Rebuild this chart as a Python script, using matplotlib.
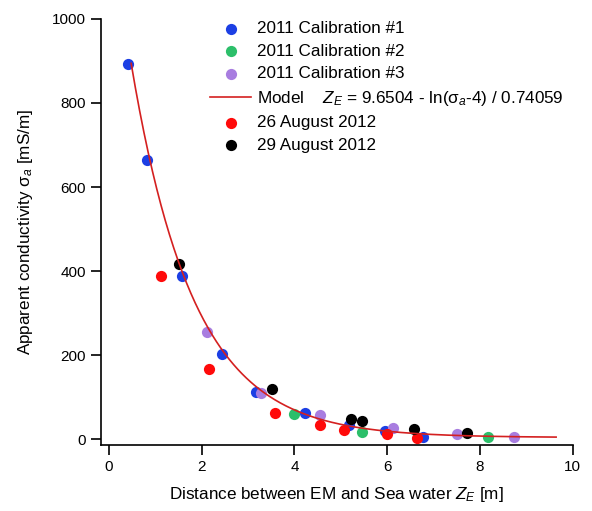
import numpy as np
import matplotlib
matplotlib.use("Agg")
import matplotlib.pyplot as plt

plt.rcParams['font.family'] = ['Liberation Sans', 'DejaVu Sans']
plt.rcParams['mathtext.fontset'] = 'custom'
plt.rcParams['mathtext.rm'] = 'Liberation Sans'
plt.rcParams['mathtext.it'] = 'Liberation Sans:italic'

# calibration 2011
cal1_x = [0.42, 0.83, 1.57, 2.43, 3.18, 4.22, 5.18, 5.95, 6.76]
cal1_y = [893, 665, 389, 203, 113, 62, 33, 20, 6]
cal2_x = [3.99, 5.46, 8.17]
cal2_y = [61, 18, 6]
cal3_x = [2.12, 3.27, 4.56, 6.12, 7.50, 8.73]
cal3_y = [254, 111, 58, 27, 13, 5]

# 2012 surveys
aug26_x = [1.12, 2.16, 3.58, 4.54, 5.07, 5.99, 6.64]
aug26_y = [389, 167, 62, 33, 21, 12, 4]
aug29_x = [1.52, 3.52, 5.21, 5.45, 6.58, 7.72]
aug29_y = [417, 119, 48, 43, 25, 14]

# model: Z = 9.6504 - ln(sigma-4)/0.74059
a, b = 9.6504, 0.74059
z = np.linspace(0.48, 9.64, 300)
sigma = 4 + np.exp(b * (a - z))

fig = plt.figure(figsize=(5.92, 5.11), dpi=100)
ax = fig.add_axes([0.1706, 0.129, 0.797, 0.834])

hm, = ax.plot(z, sigma, color='#d42020', lw=1.2,
              label='Model    $Z_E$ = 9.6504 - ln(σ$_a$-4) / 0.74059', zorder=3)
s = 65
h1 = ax.scatter(cal1_x, cal1_y, s=s, color='#1c3fe4', label='2011 Calibration #1', zorder=2, lw=0)
h2 = ax.scatter(cal2_x, cal2_y, s=s, color='#2cbf6a', label='2011 Calibration #2', zorder=2, lw=0)
h3 = ax.scatter(cal3_x, cal3_y, s=s, color='#a87de0', label='2011 Calibration #3', zorder=2, lw=0)
h4 = ax.scatter(aug26_x, aug26_y, s=s, color='#ff0a0a', label='26 August 2012', zorder=2, lw=0)
h5 = ax.scatter(aug29_x, aug29_y, s=s, color='black', label='29 August 2012', zorder=2, lw=0)

ax.set_xlim(-0.17, 10)
ax.set_ylim(-14, 1000)
ax.set_xticks([0, 2, 4, 6, 8, 10])
ax.set_yticks([0, 200, 400, 600, 800, 1000])
ax.spines['top'].set_visible(False)
ax.spines['right'].set_visible(False)
for sp in ['left', 'bottom']:
    ax.spines[sp].set_linewidth(1.2)
ax.tick_params(direction='out', length=7, width=1.2, labelsize=11, pad=4)

ax.set_xlabel('Distance between EM and Sea water $Z_E$ [m]', fontsize=12.3, labelpad=8)
ax.set_ylabel('Apparent conductivity σ$_a$ [mS/m]', fontsize=12.3, labelpad=12)

handles = [h1, h2, h3, hm, h4, h5]
ax.legend(handles, [h.get_label() for h in handles],
          loc='upper left', bbox_to_anchor=(0.232, 0.995), frameon=False,
          fontsize=12.3, handlelength=2.4, handletextpad=0.35,
          labelspacing=0.44, borderpad=0, borderaxespad=0)

fig.savefig('out.png', dpi=100)
